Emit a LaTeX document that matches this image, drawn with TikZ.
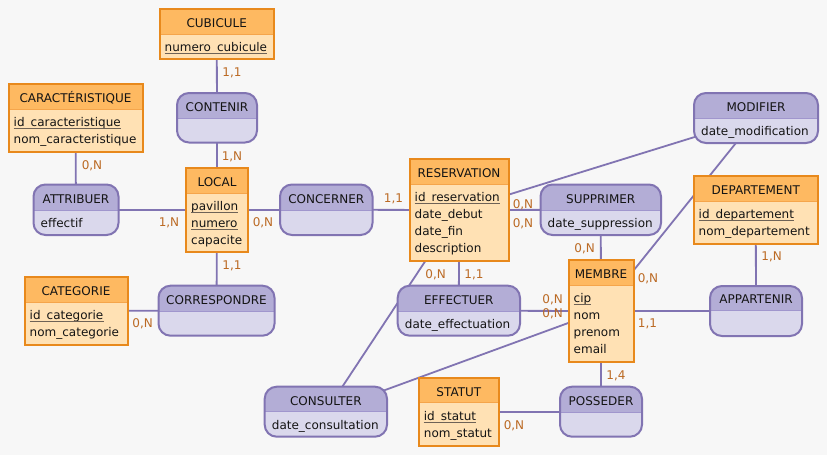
\documentclass[tikz,border=0pt]{standalone}
\usepackage{fontspec}
\setmainfont{DejaVu Sans}
\usetikzlibrary{fit,backgrounds}
\definecolor{pagebg}{RGB}{247,247,247}
\definecolor{ehead}{RGB}{254,185,97}
\definecolor{ebody}{RGB}{255,225,180}
\definecolor{eline}{RGB}{232,137,28}
\definecolor{esepc}{RGB}{245,165,75}
\definecolor{ahead}{RGB}{179,173,214}
\definecolor{abody}{RGB}{218,216,236}
\definecolor{aline}{RGB}{129,116,178}
\definecolor{asepc}{RGB}{160,150,205}
\definecolor{cardc}{RGB}{187,106,36}
\definecolor{ulc}{RGB}{110,98,86}
\definecolor{txt}{RGB}{20,20,20}
\pgfdeclarelayer{bg}
\pgfsetlayers{bg,background,main}
\tikzset{
 ebox/.style={draw=eline, line width=2pt, inner sep=0pt},
 abox/.style={draw=aline, line width=2pt, inner sep=0pt, rounded corners=12pt},
 link/.style={draw=aline, line width=1.8pt},
 ttl/.style={anchor=base, inner sep=0pt, font=\fontsize{12}{14}\selectfont, text=txt},
 attr/.style={anchor=base west, inner sep=0pt, font=\fontsize{12}{14}\selectfont, text=txt},
 card/.style={anchor=base, inner sep=0pt, font=\fontsize{12}{14}\selectfont, text=cardc},
 ulin/.style={draw=ulc, line width=1.2pt},
}
\newcommand\ent[6]{%
 \fill[ebody] (#2,#3) rectangle (#4,#5);
 \fill[ehead] (#2,#3) rectangle (#4,#6);
 \draw[esepc, line width=1pt] (#2,#6) -- (#4,#6);
 \node[ebox, fit={(#2,#3)(#4,#5)}] (#1) {};
}
\newcommand\asc[6]{%
 \fill[abody, rounded corners=12pt] (#2,#3) rectangle (#4,#5);
 \begin{scope}
  \clip (#2,#3) rectangle (#4,#6);
  \fill[ahead, rounded corners=12pt] (#2,#3) rectangle (#4,#5);
 \end{scope}
 \draw[asepc, line width=1pt] (#2,#6) -- (#4,#6);
 \node[abox, fit={(#2,#3)(#4,#5)}] (#1) {};
}
\newcommand\ulattr[4]{%
 \node[attr] (#1) at (#2,#3) {#4};
 \draw[ulin] ([yshift=-2.2pt]#1.base west) -- ([yshift=-2.2pt]#1.base east);
}
\begin{document}
\begin{tikzpicture}[x=1pt,y=-1pt]
\path[use as bounding box] (0,0) rectangle (827,455);
\begin{pgfonlayer}{bg}
\fill[pagebg] (0,0) rectangle (827,455);
\end{pgfonlayer}

% entities
\ent{cubicule}{159.5}{9}{274}{59}{34}
\node[ttl] (cubicule-t) at (216.75,27.3) {CUBICULE};
\ulattr{cubicule-a1}{164.5}{51.5}{numero\_cubicule}

\ent{caract}{8.5}{84}{142.5}{152}{109}
\node[ttl] (caract-t) at (75.5,102.3) {CARACTÉRISTIQUE};
\ulattr{caract-a1}{13.5}{126.5}{id\_caracteristique}
\node[attr] (caract-a2) at (13.5,143.5) {nom\_caracteristique};

\ent{local}{186}{167.5}{248}{252}{193}
\node[ttl] (local-t) at (217,186.3) {LOCAL};
\ulattr{local-a1}{191}{210.5}{pavillon}
\ulattr{local-a2}{191}{227.5}{numero}
\node[attr] (local-a3) at (191,244.5) {capacite};

\ent{reservation}{409.5}{159}{508.5}{261}{184}
\node[ttl] (reservation-t) at (459,177.3) {RESERVATION};
\ulattr{reservation-a1}{414.5}{201.5}{id\_reservation}
\node[attr] (reservation-a2) at (414.5,218.5) {date\_debut};
\node[attr] (reservation-a3) at (414.5,235.5) {date\_fin};
\node[attr] (reservation-a4) at (414.5,252.5) {description};

\ent{departement}{693.5}{176}{818}{244}{201}
\node[ttl] (departement-t) at (755.75,194.3) {DEPARTEMENT};
\ulattr{departement-a1}{698.5}{218.5}{id\_departement}
\node[attr] (departement-a2) at (698.5,235.5) {nom\_departement};

\ent{membre}{568.5}{260}{633.5}{362}{285}
\node[ttl] (membre-t) at (601,278.3) {MEMBRE};
\ulattr{membre-a1}{573.5}{302.5}{cip}
\node[attr] (membre-a2) at (573.5,319.5) {nom};
\node[attr] (membre-a3) at (573.5,336.5) {prenom};
\node[attr] (membre-a4) at (573.5,353.5) {email};

\ent{categorie}{24.5}{276.5}{127.5}{345}{302}
\node[ttl] (categorie-t) at (76,295.3) {CATEGORIE};
\ulattr{categorie-a1}{29.5}{319.5}{id\_categorie}
\node[attr] (categorie-a2) at (29.5,336.5) {nom\_categorie};

\ent{statut}{418.7}{377.7}{499}{445.7}{402.7}
\node[ttl] (statut-t) at (458.85,396) {STATUT};
\ulattr{statut-a1}{423.7}{420.2}{id\_statut}
\node[attr] (statut-a2) at (423.7,437.2) {nom\_statut};

% associations
\asc{contenir}{177}{93}{257}{142.5}{118}
\node[ttl] (contenir-t) at (217,111.3) {CONTENIR};

\asc{attribuer}{33.5}{184.5}{118.5}{235}{210}
\node[ttl] (attribuer-t) at (76,203.3) {ATTRIBUER};
\node[attr] (attribuer-a1) at (40.5,227.5) {effectif};

\asc{concerner}{280}{184.5}{372.5}{235}{210}
\node[ttl] (concerner-t) at (326.25,203.3) {CONCERNER};

\asc{supprimer}{540.5}{184.5}{661}{235}{210}
\node[ttl] (supprimer-t) at (600.75,203.3) {SUPPRIMER};
\node[attr] (supprimer-a1) at (547.5,227.5) {date\_suppression};

\asc{modifier}{694}{93}{818}{143}{118}
\node[ttl] (modifier-t) at (756,111.3) {MODIFIER};
\node[attr] (modifier-a1) at (701,135.5) {date\_modification};

\asc{appartenir}{710}{286}{802}{336}{310.5}
\node[ttl] (appartenir-t) at (756,303.8) {APPARTENIR};

\asc{correspondre}{158.5}{285.7}{274.5}{335.7}{311}
\node[ttl] (correspondre-t) at (216.5,304.3) {CORRESPONDRE};

\asc{effectuer}{397.7}{285.7}{520}{335.7}{311}
\node[ttl] (effectuer-t) at (458.85,304.3) {EFFECTUER};
\node[attr] (effectuer-a1) at (404.7,328.5) {date\_effectuation};

\asc{consulter}{264.7}{386.7}{387}{436.7}{411.7}
\node[ttl] (consulter-t) at (325.85,405) {CONSULTER};
\node[attr] (consulter-a1) at (271.7,429.2) {date\_consultation};

\asc{posseder}{560}{386.7}{642}{436.7}{412}
\node[ttl] (posseder-t) at (601,405.3) {POSSEDER};

% connectors
\begin{pgfonlayer}{background}
\draw[link] (cubicule.center) -- (contenir.center);
\draw[link] (contenir.center) -- (local.center);
\draw[link] (caract.center) -- (attribuer.center);
\draw[link] (attribuer.center) -- (local.center);
\draw[link] (local.center) -- (concerner.center);
\draw[link] (concerner.center) -- (reservation.center);
\draw[link] (local.center) -- (correspondre.center);
\draw[link] (categorie.center) -- (correspondre.center);
\draw[link] (reservation.center) -- (supprimer.center);
\draw[link] (supprimer.center) -- (membre.center);
\draw[link] (reservation.center) -- (modifier.center);
\draw[link] (modifier.center) -- (membre.center);
\draw[link] (reservation.center) -- (effectuer.center);
\draw[link] (effectuer.center) -- (membre.center);
\draw[link] (reservation.center) -- (consulter.center);
\draw[link] (consulter.center) -- (membre.center);
\draw[link] (membre.center) -- (appartenir.center);
\draw[link] (departement.center) -- (appartenir.center);
\draw[link] (membre.center) -- (posseder.center);
\draw[link] (statut.center) -- (posseder.center);
\end{pgfonlayer}

% cardinalities
\node[card] (c1) at (232,76.4) {1,1};
\node[card] (c2) at (232,160.4) {1,N};
\node[card] (c3) at (92,169.4) {0,N};
\node[card] (c4) at (169,226.4) {1,N};
\node[card] (c5) at (263,226.7) {0,N};
\node[card] (c6) at (393.5,202.7) {1,1};
\node[card] (c7) at (232,269.4) {1,1};
\node[card] (c8) at (523,208.4) {0,N};
\node[card] (c9) at (523,227.1) {0,N};
\node[card] (c10) at (584.7,252.1) {0,N};
\node[card] (c11) at (435.7,278.4) {0,N};
\node[card] (c12) at (474,278.4) {1,1};
\node[card] (c13) at (648,282.1) {0,N};
\node[card] (c14) at (552.7,303.4) {0,N};
\node[card] (c15) at (552.7,317.7) {0,N};
\node[card] (c16) at (647.5,327.7) {1,1};
\node[card] (c17) at (616,379.4) {1,4};
\node[card] (c18) at (771.7,260.4) {1,N};
\node[card] (c19) at (142.7,327.7) {0,N};
\node[card] (c20) at (514,429.4) {0,N};
\end{tikzpicture}
\end{document}
